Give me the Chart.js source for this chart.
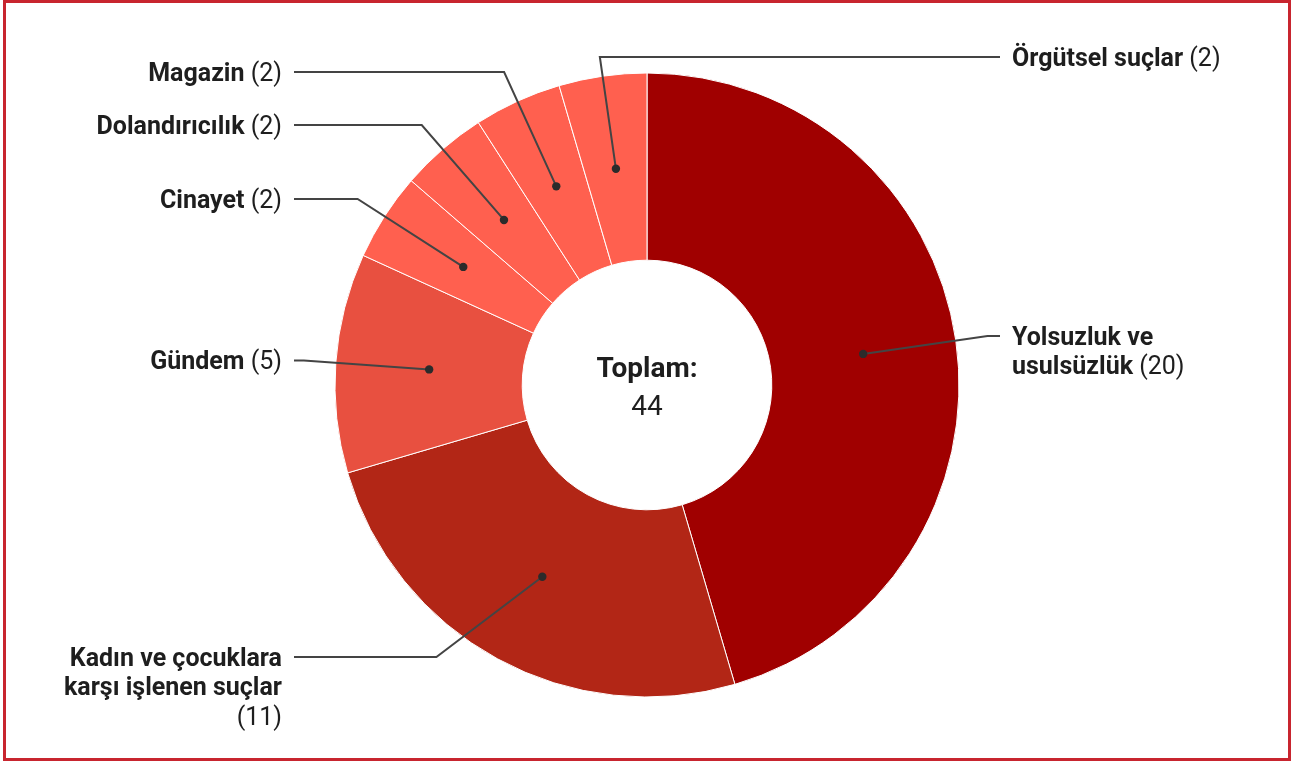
<!DOCTYPE html>
<html lang="tr">
<head>
<meta charset="utf-8">
<title>Suç kategorileri</title>
<script src="https://cdn.jsdelivr.net/npm/chart.js@4.4.1/dist/chart.umd.min.js"></script>
<style>
    html, body { margin: 0; padding: 0; background: #fff; }
    #wrap { position: relative; width: 1299px; height: 763px; }
    #frame {
        position: absolute; left: 3px; top: 0; width: 1288px; height: 761px;
        box-sizing: border-box; border: 3px solid #c8252f; pointer-events: none;
    }
</style>
</head>
<body>
<div id="wrap">
    <canvas id="myChart" width="1299" height="763"></canvas>
    <div id="frame"></div>
</div>
<script>
// =====================
// Data
// =====================
const categories = [
    'Yolsuzluk ve usulsüzlük',
    'Kadın ve çocuklara karşı işlenen suçlar',
    'Gündem',
    'Cinayet',
    'Dolandırıcılık',
    'Magazin',
    'Örgütsel suçlar'
];
const counts = [20, 11, 5, 2, 2, 2, 2];
const centerTitle = 'Toplam:';

const sliceColors = ['#a00000', '#b22616', '#e85040', '#ff604f', '#ff604f', '#ff604f', '#ff604f'];

const LABEL_FONT = 25;
const LINE_H = 29.5;
const WRAP_WIDTH = 235;
const TOP_Y = 57;
const BOTTOM_Y = 716;

// =====================
// Split "name (n)" into wrapped lines of bold / regular words
// =====================
function wrapLabel(ctx, name, count, maxWidth) {
    const words = name.split(' ').map(w => ({text: w, bold: true}));
    words.push({text: `(${count})`, bold: false});

    const lines = [];
    let line = [];
    let lineWidth = 0;
    words.forEach(word => {
        ctx.font = `${word.bold ? 'bold ' : ''}${LABEL_FONT}px Roboto`;
        const w = ctx.measureText(word.text).width;
        ctx.font = `${LABEL_FONT}px Roboto`;
        const space = line.length ? ctx.measureText(' ').width : 0;
        if (line.length && lineWidth + space + w > maxWidth) {
            lines.push({words: line, width: lineWidth});
            line = [];
            lineWidth = 0;
        }
        const gap = line.length ? ctx.measureText(' ').width : 0;
        word.width = w;
        word.gap = gap;
        line.push(word);
        lineWidth += gap + w;
    });
    if (line.length) lines.push({words: line, width: lineWidth});
    return lines;
}

// =====================
// Callout labels with leader lines + centre text
// =====================
const calloutPlugin = {
    id: 'callouts',
    afterDatasetsDraw(chart) {
        const ctx = chart.ctx;
        const meta = chart.getDatasetMeta(0);
        ctx.save();

        meta.data.forEach((arc, i) => {
            const p = arc.getProps(['x', 'y', 'startAngle', 'endAngle', 'innerRadius', 'outerRadius'], true);
            const mid = (p.startAngle + p.endAngle) / 2;
            const cos = Math.cos(mid);
            const sin = Math.sin(mid);
            const dotR = (p.innerRadius + p.outerRadius) / 2;
            const guideR = p.outerRadius + 32;
            const right = cos > -0.2;

            const lines = wrapLabel(ctx, categories[i], counts[i], WRAP_WIDTH);

            // label height follows the guide circle, kept inside the frame
            let ly = p.y + sin * guideR;
            ly = Math.max(ly, TOP_Y);
            ly = Math.min(ly, BOTTOM_Y - (lines.length - 1) * LINE_H);

            // elbow on the slice centre line at label height
            let ex = p.x + cos * guideR;
            if (Math.abs(ly - (p.y + sin * guideR)) > 0.5 && Math.abs(sin) > 0.05) {
                const t = (ly - p.y) / sin;
                ex = p.x + cos * t;
                if (t < p.outerRadius + 10) {
                    const dy = ly - p.y;
                    const dx = Math.sqrt(Math.max(guideR * guideR - dy * dy, 0));
                    ex = p.x + (cos >= 0 ? dx : -dx);
                }
            }
            const lineEnd = right ? p.x + 353 : p.x - 353;

            const dx0 = p.x + cos * dotR;
            const dy0 = p.y + sin * dotR;

            ctx.strokeStyle = '#444';
            ctx.lineWidth = 2;
            ctx.beginPath();
            ctx.moveTo(dx0, dy0);
            ctx.lineTo(ex, ly);
            ctx.lineTo(lineEnd, ly);
            ctx.stroke();

            ctx.fillStyle = '#2b2b2b';
            ctx.beginPath();
            ctx.arc(dx0, dy0, 4.2, 0, Math.PI * 2);
            ctx.fill();

            // text
            ctx.fillStyle = '#1e1e1e';
            ctx.textBaseline = 'alphabetic';
            ctx.textAlign = 'left';
            lines.forEach((ln, k) => {
                const baseline = ly + k * LINE_H + LABEL_FONT * 0.35;
                let x = right ? lineEnd + 12 : lineEnd - 12 - ln.width;
                ln.words.forEach((word, j) => {
                    if (j > 0) x += word.gap;
                    ctx.font = `${word.bold ? 'bold ' : ''}${LABEL_FONT}px Roboto`;
                    ctx.fillText(word.text, x, baseline);
                    x += word.width;
                });
            });
        });

        // centre text
        const first = meta.data[0];
        const total = counts.reduce((a, b) => a + b, 0);
        ctx.fillStyle = '#1e1e1e';
        ctx.textAlign = 'center';
        ctx.textBaseline = 'alphabetic';
        ctx.font = 'bold 28px Roboto';
        ctx.fillText(centerTitle, first.x, first.y - 8);
        ctx.font = '28px Roboto';
        ctx.fillText(String(total), first.x, first.y + 30);

        ctx.restore();
    }
};

// =====================
// Chart
// =====================
const ctx = document.getElementById('myChart').getContext('2d');
const chart = new Chart(ctx, {
    type: 'doughnut',
    data: {
        labels: categories,
        datasets: [{
            data: counts,
            backgroundColor: sliceColors,
            borderColor: '#ffffff',
            borderWidth: 1,
            hoverOffset: 0
        }]
    },
    options: {
        responsive: false,
        animation: false,
        cutout: '40%',
        events: [],
        layout: {
            padding: {top: 72.5, bottom: 65.5, left: 299.5, right: 304.5}
        },
        plugins: {
            legend: {display: false},
            tooltip: {enabled: false}
        }
    },
    plugins: [calloutPlugin]
});
</script>
</body>
</html>
